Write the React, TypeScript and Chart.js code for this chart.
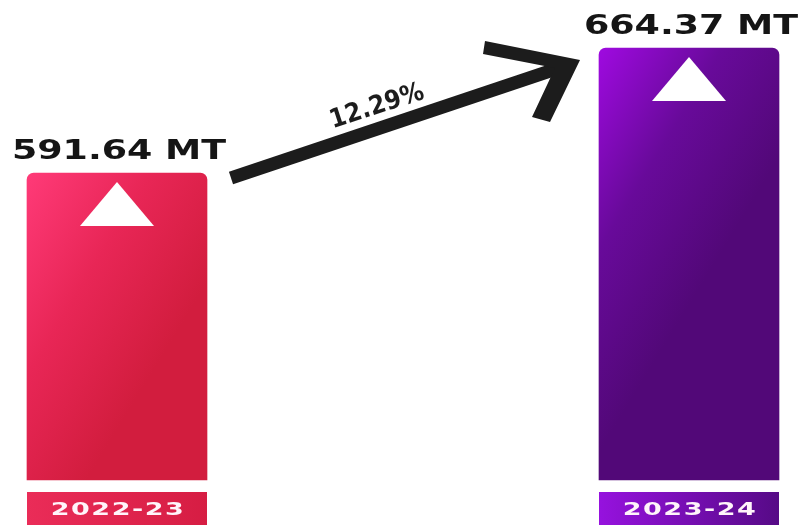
import { useEffect, useRef } from 'react';
import { Chart, registerables } from 'chart.js';

Chart.register(...registerables);

const categories = ['2022-23', '2023-24'];
const values = [591.64, 664.37];
const unitLabel = 'MT';
const yAxisRange = [413, 692.3];

const barGradients = [
  ['#ff3a78', '#e82656', '#d21d3e'],
  ['#9f0ae0', '#680a9a', '#520878'],
];
const boxGradients = [
  ['#ea2c58', '#d61d43'],
  ['#9612de', '#560a86'],
];

const BAR_W = 180;

const overlayPlugin = {
  id: 'overlay',
  afterDatasetsDraw(chart: any) {
    const ctx: CanvasRenderingContext2D = chart.ctx;
    const area = chart.chartArea;
    const meta = chart.getDatasetMeta(0);
    const bars = meta.data.map((b: any) => b.getProps(['x', 'y', 'width'], true));

    bars.forEach((b: any, i: number) => {
      const { x, y, width } = b;
      // triangle
      ctx.save();
      ctx.fillStyle = '#ffffff';
      ctx.beginPath();
      ctx.moveTo(x, y + 9);
      ctx.lineTo(x + 37, y + 53);
      ctx.lineTo(x - 37, y + 53);
      ctx.closePath();
      ctx.fill();
      ctx.restore();

      // value label
      ctx.save();
      ctx.font = 'bold 26px "DejaVu Sans"';
      ctx.fillStyle = '#151515';
      ctx.textAlign = 'center';
      ctx.textBaseline = 'alphabetic';
      ctx.translate(x + 2, y - 14);
      ctx.scale(1.4, 1);
      ctx.fillText(`${values[i].toFixed(2)} ${unitLabel}`, 0, 0);
      ctx.restore();

      // category box
      const top = area.bottom + 12;
      const g = ctx.createLinearGradient(x - width / 2, 0, x + width / 2, 0);
      g.addColorStop(0, boxGradients[i][0]);
      g.addColorStop(1, boxGradients[i][1]);
      ctx.save();
      ctx.fillStyle = g;
      ctx.fillRect(x - width / 2, top, width, chart.height - top);
      ctx.font = 'bold 18px "DejaVu Sans"';
      (ctx as any).letterSpacing = '1px';
      ctx.fillStyle = '#fff4fa';
      ctx.textAlign = 'center';
      ctx.textBaseline = 'alphabetic';
      ctx.translate(x + 1, top + 23);
      ctx.scale(1.5, 1);
      ctx.fillText(categories[i], 0, 0);
      ctx.restore();
    });

    if (bars.length < 2) return;
    const b0 = bars[0];
    const b1 = bars[1];
    const S = { x: b0.x + b0.width / 2 + 24, y: b0.y + 5 };
    const T = { x: b1.x - b1.width / 2 - 19, y: b1.y + 12 };
    const E = { x: T.x - 24, y: T.y + 9 };

    ctx.save();
    ctx.strokeStyle = '#1c1c1c';
    ctx.fillStyle = '#1c1c1c';
    ctx.lineWidth = 13;
    ctx.lineCap = 'butt';
    ctx.beginPath();
    ctx.moveTo(S.x, S.y);
    ctx.lineTo(E.x, E.y);
    ctx.stroke();

    // arrow head polygon (offsets from tip)
    const head = [
      [-95, -19],
      [0, 0],
      [-30, 62],
      [-48, 57],
      [-25, 8],
      [-97, -6],
    ];
    ctx.beginPath();
    head.forEach(([dx, dy], k) => {
      if (k === 0) ctx.moveTo(T.x + dx, T.y + dy);
      else ctx.lineTo(T.x + dx, T.y + dy);
    });
    ctx.closePath();
    ctx.fill();

    // percentage label
    const pct = ((values[1] - values[0]) / values[0]) * 100;
    const dx = E.x - S.x;
    const dy = E.y - S.y;
    const len = Math.hypot(dx, dy);
    const ux = dx / len;
    const uy = dy / len;
    const nx = uy;
    const ny = -ux;
    const f = 0.47;
    const px = S.x + dx * f + nx * 21;
    const py = S.y + dy * f + ny * 21;
    ctx.translate(px, py);
    ctx.rotate(Math.atan2(dy, dx) + 0.01);
    ctx.font = '600 26px "DejaVu Sans Condensed"';
    ctx.textAlign = 'center';
    ctx.textBaseline = 'middle';
    ctx.fillText(`${pct.toFixed(2)}%`, 0, 0);
    ctx.restore();
  },
};

export default function App() {
  const ref = useRef<HTMLCanvasElement>(null);

  useEffect(() => {
    if (!ref.current) return;
    const chart = new Chart(ref.current, {
      type: 'bar',
      data: {
        labels: categories,
        datasets: [
          {
            data: values,
            base: yAxisRange[0],
            barThickness: BAR_W,
            borderRadius: 7,
            borderSkipped: 'bottom',
            clip: false as any,
            backgroundColor: (c: any) => {
              const idx = c.dataIndex ?? 0;
              const chart = c.chart;
              const area = chart.chartArea;
              if (!area || c.type !== 'data') return barGradients[idx % 2][1];
              const cx = chart.scales.x.getPixelForValue(idx);
              const top = chart.scales.y.getPixelForValue(values[idx]);
              const g = chart.ctx.createLinearGradient(cx - BAR_W / 2, top, cx + BAR_W / 2, top + 110);
              const stops = barGradients[idx % 2];
              g.addColorStop(0, stops[0]);
              g.addColorStop(0.5, stops[1]);
              g.addColorStop(1, stops[2]);
              return g;
            },
          } as any,
        ],
      },
      options: {
        animation: false,
        responsive: false,
        devicePixelRatio: 1,
        layout: { padding: { left: 117, right: 113, top: 0, bottom: 45 } },
        plugins: { legend: { display: false }, tooltip: { enabled: false } },
        scales: {
          x: { type: 'category', offset: false, display: false, grid: { display: false } },
          y: { min: yAxisRange[0], max: yAxisRange[1], display: false, grid: { display: false } },
        },
      },
      plugins: [overlayPlugin],
    });
    return () => chart.destroy();
  }, []);

  return (
    <div style={{ position: 'absolute', left: 0, top: 0, width: 802, height: 525, background: '#fff' }}>
      <canvas ref={ref} width={802} height={525} />
    </div>
  );
}
